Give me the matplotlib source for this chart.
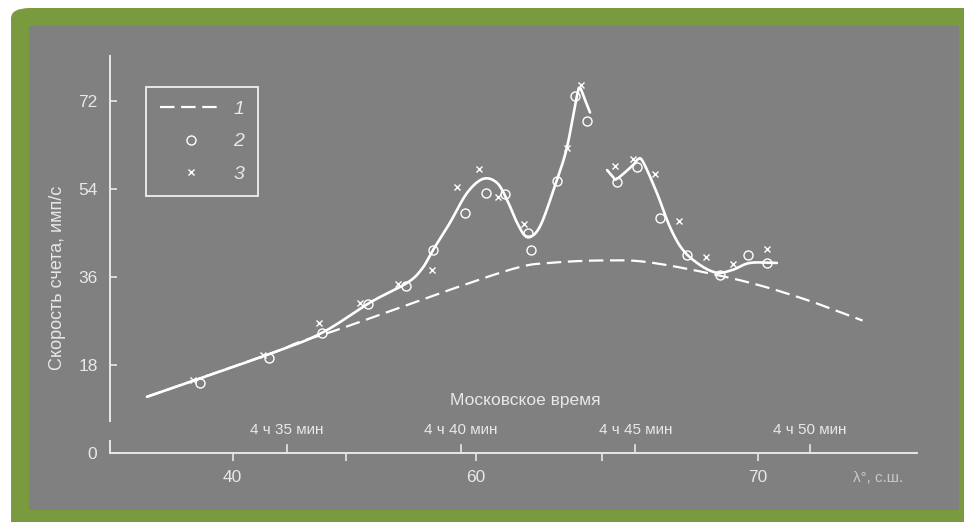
import numpy as np
import matplotlib
matplotlib.use('Agg')
import matplotlib.pyplot as plt
from matplotlib.patches import FancyBboxPatch, Rectangle
from matplotlib.lines import Line2D

plt.rcParams['font.family'] = ['Liberation Sans', 'DejaVu Sans']

# ---- data (x = minutes after 4 h 30 min Moscow time, y = count rate, imp/s) ----
# curve 1 (dashed)
curve1_t = [0.99, 4.52, 5.32, 6.61, 9.68, 11.6, 12.55, 13.99, 15.42, 17.86, 19.72, 21.52]
curve1_y = [11.5, 20.3, 22.6, 25.6, 33.4, 37.9, 38.9, 39.4, 39.0, 35.6, 31.8, 27.1]

# smooth solid curve, first part
solidA_t = [0.99, 4.52, 6.01, 7.39, 8.45, 8.88, 9.20, 9.68, 10.17, 10.63, 11.03, 11.32,
            11.61, 11.89, 12.26, 12.75, 13.04, 13.32, 13.41, 13.56, 13.70]
solidA_y = [11.5, 20.3, 24.6, 30.8, 34.8, 37.7, 41.6, 47.1, 53.2, 56.1, 55.3, 51.8,
            47.1, 44.3, 46.3, 55.9, 62.6, 72.9, 74.7, 72.2, 69.7]
# smooth solid curve, second part
solidB_t = [14.19, 14.36, 14.47, 14.93, 15.07, 15.22, 15.62, 15.99, 16.36, 16.85,
            17.34, 17.80, 18.29, 19.06]
solidB_y = [57.9, 56.5, 56.1, 58.9, 60.1, 59.6, 53.2, 46.3, 41.6, 38.5,
            36.9, 37.5, 38.9, 38.9]

# series 2 (circles)
s2_t = [2.52, 4.49, 6.02, 7.33, 8.42, 9.19, 10.11, 10.71, 11.26, 11.92, 12.00,
        12.75, 13.27, 13.61, 14.47, 15.05, 15.70, 16.48, 17.43, 18.23, 18.78]
s2_y = [14.4, 19.5, 24.6, 30.5, 34.2, 41.6, 49.1, 53.2, 53.0, 45.1, 41.6,
        55.7, 73.1, 68.0, 55.5, 58.5, 48.1, 40.6, 36.5, 40.5, 38.9]

# series 3 (crosses)
s3_t = [2.32, 4.32, 5.93, 7.10, 8.19, 9.17, 9.88, 10.51, 11.06, 11.81, 13.04,
        13.44, 14.41, 14.93, 15.56, 16.25, 17.02, 17.80, 18.77]
s3_y = [15.0, 20.1, 26.6, 30.7, 34.6, 37.5, 54.5, 58.1, 52.4, 46.9, 62.4,
        75.3, 58.7, 60.2, 57.1, 47.4, 40.2, 38.6, 41.8]

# axis ticks
y_ticks = [0, 18, 36, 54, 72]
lat_tick_pos = [3.45, 6.70, 10.43, 14.03, 18.52]      # latitude 40, 50, 60, 65, 70
lat_tick_labels = ['40', '', '60', '', '70']
time_tick_pos = [5, 10, 15, 20]
time_tick_labels = ['4 ч 35 мин', '4 ч 40 мин', '4 ч 45 мин', '4 ч 50 мин']
legend_labels = ['1', '2', '3']


def smooth(x, y, n=20):
    """Catmull-Rom curve through the read points (for drawing only)."""
    P = np.column_stack([x, y]).astype(float)
    P = np.vstack([2 * P[0] - P[1], P, 2 * P[-1] - P[-2]])
    out = []
    s = np.linspace(0, 1, n, endpoint=False)[:, None]
    for i in range(1, len(P) - 2):
        p0, p1, p2, p3 = P[i - 1], P[i], P[i + 1], P[i + 2]
        pts = 0.5 * (2 * p1 + (-p0 + p2) * s + (2 * p0 - 5 * p1 + 4 * p2 - p3) * s ** 2
                     + (-p0 + 3 * p1 - 3 * p2 + p3) * s ** 3)
        out.append(pts)
    out.append(P[-2][None])
    out = np.vstack(out)
    return out[:, 0], out[:, 1]


W, H = 964, 522
fig = plt.figure(figsize=(W / 100, H / 100), dpi=100)
fig.patch.set_facecolor('white')

GREEN = '#7a9a40'
GRAY = '#808080'
LIGHT = '#e8e8e8'

# frame (rounded corner only visible at top-left)
fig.patches.append(FancyBboxPatch((11 / W, -0.05), 1.1, 1.05 - 8 / H,
                                  boxstyle='round,pad=0,rounding_size=0.02',
                                  transform=fig.transFigure, facecolor=GREEN,
                                  edgecolor='none', zorder=-10))
fig.patches.append(Rectangle((29 / W, 1 - 510 / H), (959 - 29) / W, (510 - 26) / H,
                             transform=fig.transFigure, facecolor=GRAY,
                             edgecolor='none', zorder=-9))

ax_l, ax_r, ax_b, ax_t = 110, 917, 453, 56
ax = fig.add_axes([ax_l / W, 1 - ax_b / H, (ax_r - ax_l) / W, (ax_b - ax_t) / H])
ax.set_facecolor('none')

xmin, xmax = -0.07, 23.08
ymax = (453.3 - 56) / 4.89
ax.set_xlim(xmin, xmax)
ax.set_ylim(0, ymax)

# curves
cx, cy = smooth(curve1_t, curve1_y)
ax.plot(cx, cy, color='white', lw=1.6, dashes=(6.5, 3), zorder=3)
ax_, ay_ = smooth(solidA_t, solidA_y)
ax.plot(ax_, ay_, color='white', lw=1.9, solid_capstyle='round', zorder=4)
bx, by = smooth(solidB_t, solidB_y)
ax.plot(bx, by, color='white', lw=1.9, solid_capstyle='round', zorder=4)

ax.plot(s2_t, s2_y, linestyle='none', marker='o', ms=6.5, mfc='none', mec='white',
        mew=1.0, zorder=5)
ax.plot(s3_t, s3_y, linestyle='none', marker='x', ms=5, mec='white', mew=1.0, zorder=5)

# spines
for sp in ['top', 'right', 'left']:
    ax.spines[sp].set_visible(False)
ax.spines['bottom'].set_color(LIGHT)
ax.spines['bottom'].set_linewidth(1.4)
# broken left axis
gap_lo = (453.3 - 441.7) / 4.89 / ymax
gap_hi = (453.3 - 421.7) / 4.89 / ymax
ax.plot([0, 0], [0, gap_lo], transform=ax.transAxes, color=LIGHT, lw=1.4, clip_on=False)
ax.plot([0, 0], [gap_hi, 1], transform=ax.transAxes, color=LIGHT, lw=1.4, clip_on=False)

# y ticks
ax.set_yticks(y_ticks)
ax.set_yticklabels([str(v) for v in y_ticks])
ax.tick_params(axis='y', direction='in', length=5, width=1.2, color=LIGHT,
               labelcolor=LIGHT, labelsize=12.5, pad=9)

# latitude ticks
ax.set_xticks(lat_tick_pos)
ax.set_xticklabels(lat_tick_labels)
ax.tick_params(axis='x', direction='out', length=6, width=1.2, color=LIGHT,
               labelcolor=LIGHT, labelsize=12.5, pad=6)

# time ticks (upward) and labels
xt = ax.get_xaxis_transform()
for t, lab in zip(time_tick_pos, time_tick_labels):
    ax.plot([t, t], [0, 8 / 397], transform=xt, color=LIGHT, lw=1.2, clip_on=False)
    ax.text(t, 23 / 397, lab, transform=xt, ha='center', va='center', color=LIGHT,
            fontsize=11, family=['Liberation Sans Narrow', 'Liberation Sans', 'DejaVu Sans'])

fig.text(525 / W, 1 - 401 / H, 'Московское время', ha='center', va='center',
         color=LIGHT, fontsize=12.5)
fig.text(878 / W, 1 - 478 / H, 'λ°, с.ш.', ha='center', va='center',
         color='#c8c8c8', fontsize=11)
fig.text(58 / W, 1 - 278 / H, 'Скорость счета, имп/с', rotation=90, ha='center',
         va='center', color=LIGHT, fontsize=13)

# legend
handles = [Line2D([], [], color='white', lw=1.6, dashes=(6.5, 3)),
           Line2D([], [], linestyle='none', marker='o', ms=6.5, mfc='none', mec='white', mew=1.0),
           Line2D([], [], linestyle='none', marker='x', ms=5, mec='white', mew=1.0)]
leg = ax.legend(handles, legend_labels, loc='upper left',
                bbox_to_anchor=((146 - ax_l) / (ax_r - ax_l), (ax_b - 87) / (ax_b - ax_t)),
                borderaxespad=0, frameon=True, fancybox=False, framealpha=1,
                prop={'style': 'italic', 'size': 14}, handlelength=3.2,
                handletextpad=0.6, labelspacing=0.75, borderpad=0.7)
leg.get_frame().set_facecolor('none')
leg.get_frame().set_edgecolor(LIGHT)
leg.get_frame().set_linewidth(1.4)
for txt in leg.get_texts():
    txt.set_color(LIGHT)

fig.savefig('out.png', dpi=100, facecolor=fig.get_facecolor())
